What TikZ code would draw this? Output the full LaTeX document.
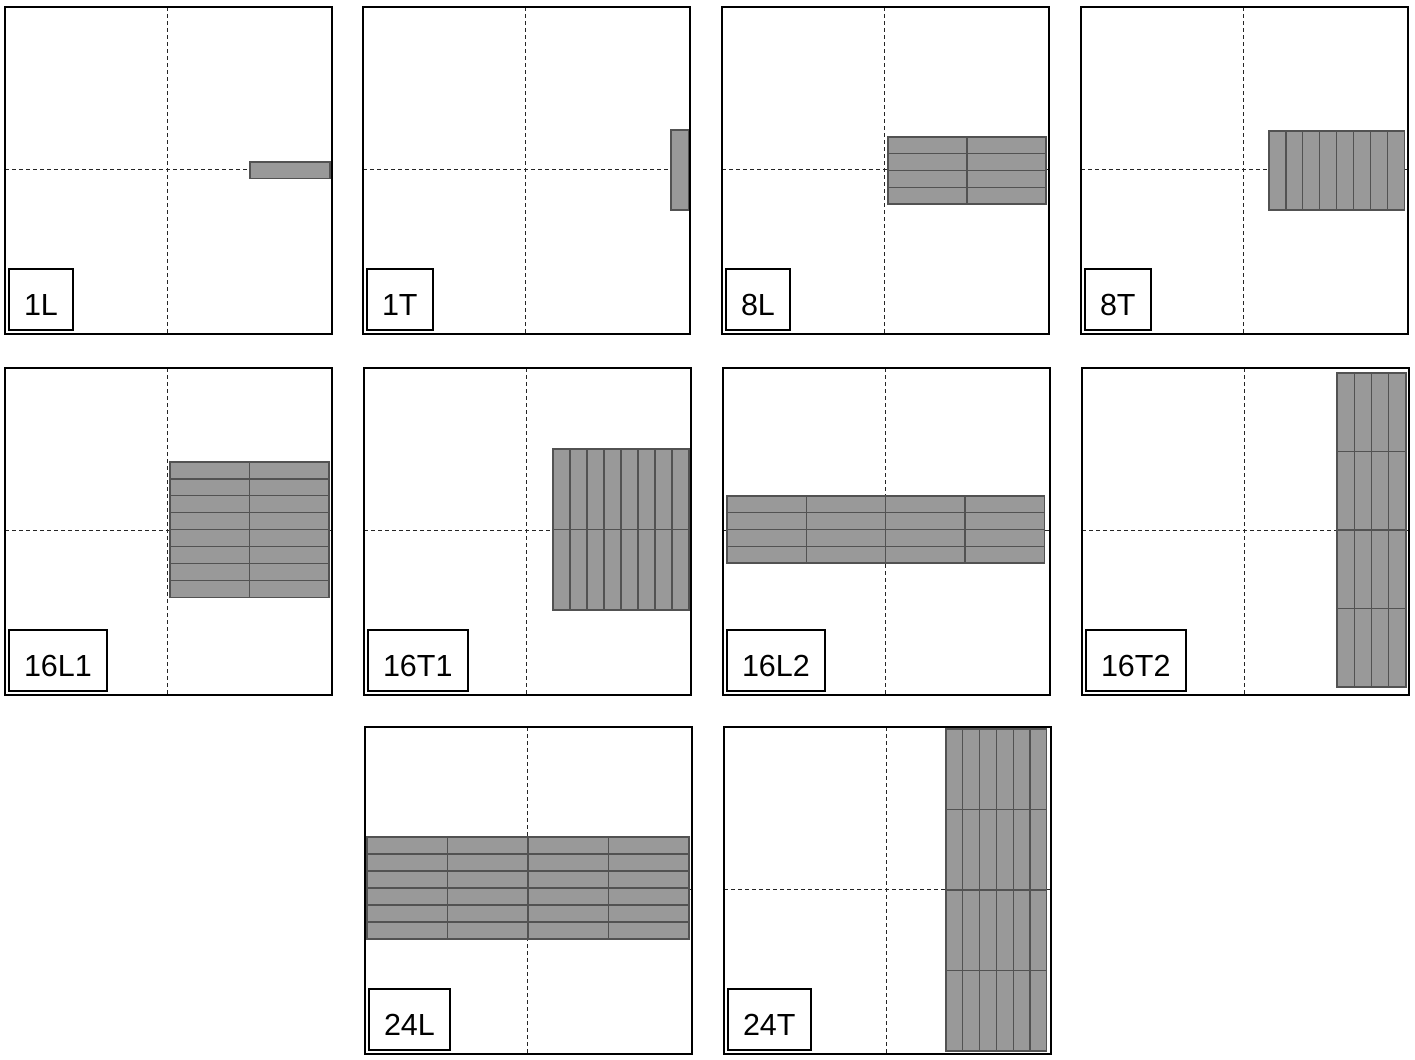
\documentclass[tikz,border=0pt]{standalone}
\usepackage{fontspec}
\setmainfont{Liberation Sans}
\tikzset{
 frame/.style={draw=black, line width=2bp},
 guide/.style={draw=black!85, line width=1bp, dash pattern=on 4bp off 3bp},
 tile/.style={fill=black!40, draw=black!68, line width=1.2bp},
 lab/.style={draw=black, line width=2bp, fill=white, anchor=south west, inner xsep=15bp, inner ysep=0pt, text height=46bp, text depth=15bp, font=\fontsize{30.5bp}{36bp}\selectfont},
}
\newcommand\guides[2]{\draw[guide] ({#1+162.5},#2) -- ({#1+162.5},{#2+327}); \draw[guide] (#1,{#2+162.5}) -- ({#1+327},{#2+162.5});}
\newcommand\tiles[6]{\foreach \i in {1,...,#3}{\foreach \j in {1,...,#4}{\draw[tile] ({#1+(\i-1)*#5},{#2+(\j-1)*#6}) rectangle +(#5,#6);}}}
\newcommand\panelframe[3]{\draw[frame] (#1,#2) rectangle +(327,327); \node[lab] (lab#3) at ({#1+3},{#2+324}) {#3};}
\begin{document}
\begin{tikzpicture}[x=1bp,y=-1bp]
\useasboundingbox (0,0) rectangle (1415,1059);
% guides
\guides{5}{7}\guides{363}{7}\guides{722}{7}\guides{1081}{7}
\guides{5}{368}\guides{364}{368}\guides{723}{368}\guides{1082}{368}
\guides{365}{727}\guides{724}{727}
% tiles
\tiles{250}{162}{1}{1}{80}{16.5}
\tiles{671}{130}{1}{1}{18}{80}
\tiles{888}{137}{2}{4}{79}{16.75}
\tiles{1269}{131}{8}{1}{16.9}{79}
\tiles{170}{462}{2}{8}{79.5}{16.9}
\tiles{553}{449}{8}{2}{17}{80.5}
\tiles{727}{496}{4}{4}{79.3}{16.75}
\tiles{1337}{373}{4}{4}{17.25}{78.5}
\tiles{367}{837}{4}{6}{80.5}{17}
\tiles{946}{729}{6}{4}{16.8}{80.5}
% frames and labels
\panelframe{5}{7}{1L}\panelframe{363}{7}{1T}\panelframe{722}{7}{8L}\panelframe{1081}{7}{8T}
\panelframe{5}{368}{16L1}\panelframe{364}{368}{16T1}\panelframe{723}{368}{16L2}\panelframe{1082}{368}{16T2}
\panelframe{365}{727}{24L}\panelframe{724}{727}{24T}
\end{tikzpicture}
\end{document}
